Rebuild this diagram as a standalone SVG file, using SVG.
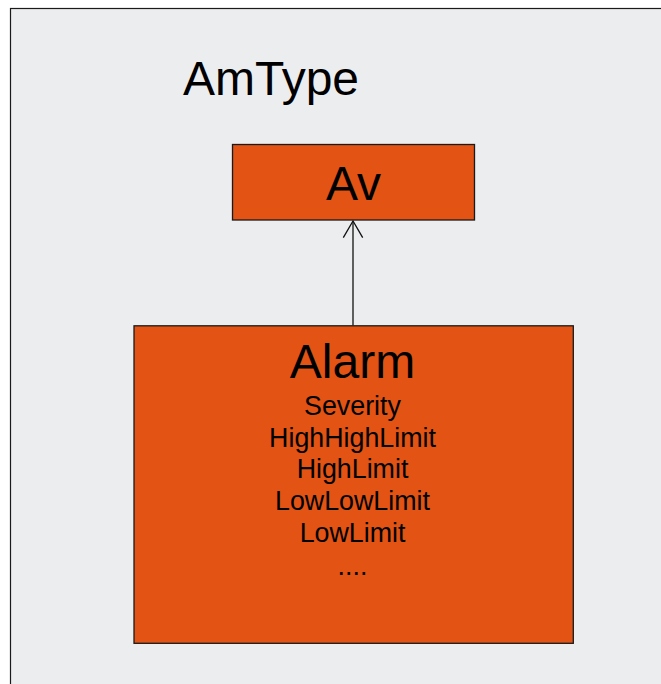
<svg xmlns="http://www.w3.org/2000/svg" width="661" height="684" viewBox="0 0 661 684">
<style>
text{font-family:"Liberation Sans",Arial,sans-serif;fill:#000}
.box{fill:#E25314;stroke:#1a1a1a;stroke-width:1.3}
.big{font-size:48px}
.attr{font-size:26.8px;text-anchor:middle}
</style>
<rect width="661" height="684" fill="#ffffff"/>
<rect x="10.5" y="8.5" width="660" height="690" fill="#ECEDEF" stroke="#1a1a1a" stroke-width="1.2"/>
<text class="big" x="183" y="95">AmType</text>
<g id="connectors">
<line x1="353" y1="325.5" x2="353" y2="221" stroke="#111" stroke-width="1.3"/>
<polyline points="343.3,237.7 353,221 362.7,237.7" fill="none" stroke="#111" stroke-width="1.3"/>
</g>
<g id="av">
<rect class="box" x="232.5" y="144.5" width="242" height="75.5"/>
<text class="big" x="353.5" y="200" text-anchor="middle">Av</text>
</g>
<g id="alarm">
<rect class="box" x="134" y="325.8" width="439.3" height="317.5"/>
<text class="big" x="352.5" y="378" text-anchor="middle">Alarm</text>
<text class="attr" x="352.5" y="415">Severity</text>
<text class="attr" x="352.5" y="446.7">HighHighLimit</text>
<text class="attr" x="352.5" y="478.3">HighLimit</text>
<text class="attr" x="352.5" y="510">LowLowLimit</text>
<text class="attr" x="352.5" y="541.7">LowLimit</text>
<text class="attr" x="352.5" y="575">....</text>
</g>
</svg>
